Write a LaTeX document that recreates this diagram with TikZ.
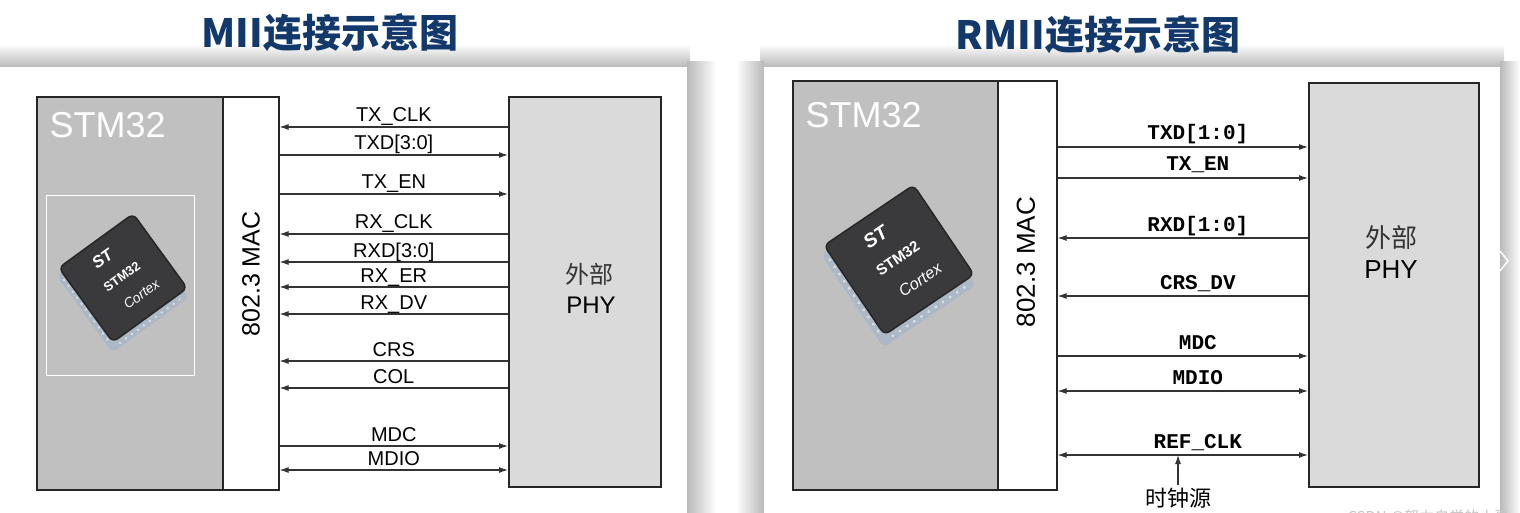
\documentclass[tikz,border=0pt]{standalone}
\usepackage{fontspec}
\setmainfont{Liberation Sans}
\newfontfamily\cjk{Noto Sans CJK SC}
\newfontfamily\courier{Liberation Mono}
\usetikzlibrary{arrows.meta}
\definecolor{titleblue}{RGB}{18,56,108}
\definecolor{stmgray}{RGB}{192,192,192}
\definecolor{phygray}{RGB}{218,218,218}
\definecolor{chipbody}{RGB}{58,58,60}
\definecolor{pinblue}{RGB}{172,184,198}

\tikzset{
  chip/.pic={
    \begin{scope}[y=1pt]
      % base with pins
      \fill[pinblue, rounded corners=5pt] (-57,-59) rectangle (46,44);
      \foreach \t in {-44,-36,...,36} {
        \fill[gray!25] (\t,-55) circle (1.5pt);
        \fill[gray!25] (-53,\t) circle (1.5pt);
      }
      % body
      \fill[chipbody, rounded corners=6pt] (-50,-50) rectangle (50,50);
      \draw[black!85, line width=1.5pt, rounded corners=6pt] (-50,-50) rectangle (50,50);
      \node[transform shape, white, font=\bfseries\itshape\fontsize{18}{18}\selectfont] at (-6,30) {ST};
      \node[transform shape, white, font=\bfseries\fontsize{14}{14}\selectfont] at (0,2) {STM32};
      \node[transform shape, white, font=\itshape\fontsize{15}{15}\selectfont] at (6,-26) {Cortex};
    \end{scope}
  }
}

\begin{document}
\begin{tikzpicture}[x=1pt, y=-1pt, >={Latex[length=9pt,width=6pt]},
  box/.style={draw=black!85, line width=1.6pt, inner sep=0pt, anchor=north west},
  sig/.style={draw=black!80, line width=1.1pt},
  lab/.style={font=\fontsize{20}{20}\selectfont, anchor=base, yshift=5pt, inner sep=0pt},
  mlab/.style={font=\courier\bfseries\fontsize{21}{21}\selectfont, anchor=base, yshift=7pt, inner sep=0pt},
  title/.style={font=\cjk\bfseries\fontsize{39}{39}\selectfont, text=titleblue}]
  \useasboundingbox (0,0) rectangle (1520,513);

  % panel shadows
  \shade[top color=white, bottom color=gray!55] (0,44) rectangle (690,67);
  \shade[top color=white, bottom color=gray!55] (760,44) rectangle (1504,67);
  \shade[left color=gray!55, right color=white] (687,62) rectangle (716,513);
  \shade[left color=white, right color=gray!55] (736,62) rectangle (764,513);
  \shade[left color=gray!55, right color=white] (1500,62) rectangle (1520,513);
  \fill[white] (0,67) rectangle (687,513);
  \fill[white] (764,67) rectangle (1500,513);
  \draw[white, line width=1.5pt] (1500,251) -- (1508,261) -- (1500,271);

  \node[title] (titleA) at (330,33) {MII连接示意图};
  \node[title] (titleB) at (1098,35) {RMII连接示意图};

  % MII
  \node[box, fill=stmgray, minimum width=186pt, minimum height=393pt] (stmA) at (36,96) {};
  \node[box, fill=white, minimum width=56pt, minimum height=393pt] (macA) at (222,96) {};
  \node[box, fill=phygray, minimum width=152pt, minimum height=390pt] (phyA) at (508,96) {};
  \node[white, anchor=west, font=\fontsize{36}{36}\selectfont] (nameA) at (46,125) {STM32};
  \draw[white, line width=1pt] (46,196) rectangle (194,375);
  \pic[rotate=36, scale=0.92] at (123,278) {chip};
  \node[rotate=90, font=\fontsize{25}{25}\selectfont] (macnameA) at (251,274) {802.3 MAC};
  \node[font=\cjk\fontsize{24}{24}\selectfont, text=black!80] (extA) at (589,274) {外部};
  \node[font=\fontsize{24}{24}\selectfont] (phynameA) at (591,305) {PHY};

  \foreach \y/\lab in {155/TXD[3:0], 194/TX\_EN, 446/MDC}
    \draw[sig, ->] (macA.east |- 0,\y) -- (phyA.west |- 0,\y) node[lab, midway] {\lab};
  \foreach \y/\lab in {127/TX\_CLK, 234/RX\_CLK, 262/RXD[3:0], 287/RX\_ER, 314/RX\_DV, 361/CRS, 388/COL}
    \draw[sig, <-] (macA.east |- 0,\y) -- (phyA.west |- 0,\y) node[lab, midway] {\lab};
  \draw[sig, <->] (macA.east |- 0,470) -- (phyA.west |- 0,470) node[lab, midway] {MDIO};

  % RMII
  \node[box, fill=stmgray, minimum width=205pt, minimum height=409pt] (stmB) at (792,80) {};
  \node[box, fill=white, minimum width=59pt, minimum height=409pt] (macB) at (997,80) {};
  \node[box, fill=phygray, minimum width=170pt, minimum height=404pt] (phyB) at (1308,82) {};
  \node[white, anchor=west, font=\fontsize{36}{36}\selectfont] (nameB) at (802,115) {STM32};
  \pic[rotate=34, scale=1.08] at (899,260) {chip};
  \node[rotate=90, font=\fontsize{26}{26}\selectfont] (macnameB) at (1026,262) {802.3 MAC};
  \node[font=\cjk\fontsize{26}{26}\selectfont, text=black!80] (extB) at (1391,238) {外部};
  \node[font=\fontsize{26}{26}\selectfont] (phynameB) at (1391,270) {PHY};

  \foreach \y/\lab in {147/TXD[1:0], 178/TX\_EN, 356/MDC}
    \draw[sig, ->] (macB.east |- 0,\y) -- (phyB.west |- 0,\y) node[mlab, pos=0.56] {\lab};
  \foreach \y/\lab in {238/RXD[1:0], 296/CRS\_DV}
    \draw[sig, <-] (macB.east |- 0,\y) -- (phyB.west |- 0,\y) node[mlab, pos=0.56] {\lab};
  \foreach \y/\lab in {391/MDIO, 455/REF\_CLK}
    \draw[sig, <->] (macB.east |- 0,\y) -- (phyB.west |- 0,\y) node[mlab, pos=0.56] {\lab};
  \node[font=\cjk\fontsize{22}{22}\selectfont, anchor=north] (clk) at (1178,485) {时钟源};
  \draw[sig, ->] (clk.north) -- (clk.north |- 0,455);

  \node[font=\cjk\fontsize{15}{15}\selectfont, text=gray!45, anchor=west] (mark) at (1344,517) {CSDN @努力自觉的小夏};
\end{tikzpicture}
\end{document}
